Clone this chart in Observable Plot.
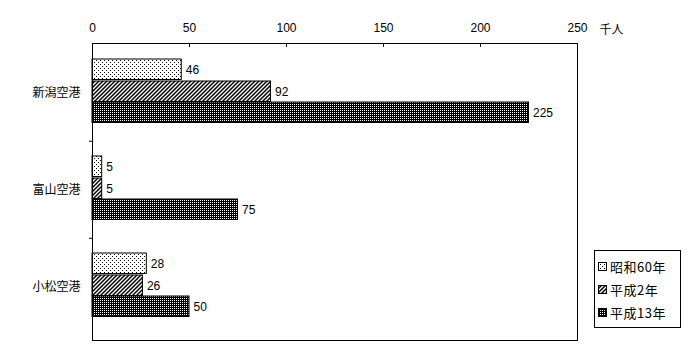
<!DOCTYPE html>
<html><head><meta charset="utf-8">
<script src="https://cdn.jsdelivr.net/npm/d3@7"></script>
<script src="https://cdn.jsdelivr.net/npm/@observablehq/plot@0.6"></script>
<style>
body{margin:0;background:#fff;font-family:"Liberation Sans","Noto Sans CJK JP",sans-serif;}
#wrap{position:relative;width:700px;height:350px;}
#legend{position:absolute;left:594px;top:250px;width:87px;height:78px;border:1px solid #000;box-sizing:border-box;font-size:13px;letter-spacing:0.5px;font-family:"Noto Sans CJK JP",sans-serif;padding-top:4px;}
#legend .it{display:flex;align-items:center;height:23px;padding-left:3px;}
#legend svg{margin-right:3px;}
</style></head>
<body>
<svg width="0" height="0" style="position:absolute">
<defs>
<pattern id="p0" width="4" height="4" patternUnits="userSpaceOnUse"><rect width="4" height="4" fill="#fff"/><rect x="0" y="0" width="1" height="1" fill="#000"/><rect x="2" y="2" width="1" height="1" fill="#000"/></pattern>
<pattern id="p1" width="4" height="4" patternUnits="userSpaceOnUse"><rect width="4" height="4" fill="#fff"/><path d="M-1,1 l2,-2 M0,4 l4,-4 M3,5 l2,-2" stroke="#000" stroke-width="1.5"/></pattern>
<pattern id="p2" width="2" height="2" patternUnits="userSpaceOnUse"><rect width="2" height="2" fill="#000"/><rect x="0" y="0" width="1" height="1" fill="#fff"/></pattern>
</defs>
</svg>
<div id="wrap"></div>
<script>
const airports = ["新潟空港", "富山空港", "小松空港"];
const seriesNames = ["昭和60年", "平成2年", "平成13年"];
const valuesS60 = [46, 5, 28];
const valuesH2 = [92, 5, 26];
const valuesH13 = [225, 75, 50];
const xTicks = [0, 50, 100, 150, 200, 250];
const unitLabel = "千人";

const fills = ["url(#p0)", "url(#p1)", "url(#p2)"];
const seriesValues = [valuesS60, valuesH2, valuesH13];

const W = 700, H = 350, mL = 92, mR = 123, mT = 43, mB = 10;
const yInsetBottom = 4.5;
const bw = (H - mT - mB - yInsetBottom) / airports.length;
const barTop = [15, 37, 58];
const barH = 21;

const marks = [];
seriesValues.forEach((vals, i) => {
  const rows = airports.map((a, j) => ({airport: a, value: vals[j]}));
  marks.push(Plot.barX(rows, {
    x: "value", y: "airport", fill: fills[i], stroke: "#000", strokeWidth: 1,
    insetTop: barTop[i], insetBottom: bw - barTop[i] - barH
  }));
  marks.push(Plot.text(rows, {
    x: "value", y: "airport", text: d => String(d.value), textAnchor: "start",
    dx: 4, dy: barTop[i] + barH / 2 - bw / 2, fill: "#000", fontSize: 12
  }));
});

const chart = Plot.plot({
  width: W, height: H, marginLeft: mL, marginRight: mR, marginTop: mT, marginBottom: mB,
  style: {fontFamily: '"Liberation Sans","Noto Sans CJK JP",sans-serif', fontSize: "12px", background: "#fff", color: "#000"},
  x: {domain: [0, 250]},
  y: {domain: airports, padding: 0, insetBottom: yInsetBottom},
  marks: [
    ...marks,
    Plot.frame({stroke: "#000", strokeWidth: 1}),
    Plot.axisX(xTicks, {anchor: "top", tickSize: 0, tickPadding: 12, fontSize: 12, label: null}),
    Plot.ruleX(xTicks, {x: d => d, stroke: "#000", insetBottom: H - mT - mB - 4}),
    Plot.axisY(airports, {anchor: "left", tickSize: 0, tickPadding: 12, fontSize: 12, label: null, fontFamily: '"Noto Sans CJK JP",sans-serif'}),
    Plot.axisY(airports.slice(1), {anchor: "left", tickSize: 3, tickFormat: () => "", label: null, dy: -bw / 2}),
    Plot.text([unitLabel], {x: 250, text: d => d, frameAnchor: "top", dx: 22, dy: -18, textAnchor: "start", fontSize: 12, fontFamily: '"Noto Sans CJK JP",sans-serif'})
  ]
});
document.getElementById("wrap").appendChild(chart);

const leg = document.createElement("div");
leg.id = "legend";
seriesNames.forEach((n, i) => {
  const it = document.createElement("div");
  it.className = "it";
  it.innerHTML = `<svg width="9" height="9"><rect x="0.5" y="0.5" width="8" height="8" fill="${fills[i]}" stroke="#000"/></svg><span>${n}</span>`;
  leg.appendChild(it);
});
document.getElementById("wrap").appendChild(leg);
</script>
</body></html>
